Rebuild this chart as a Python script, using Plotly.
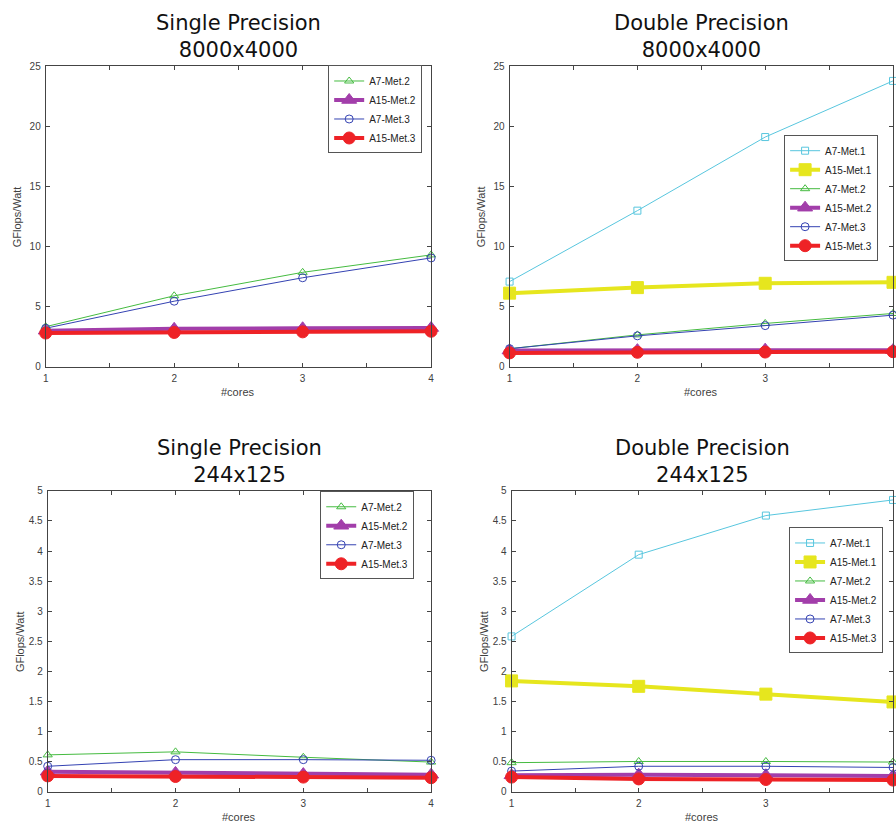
import plotly.graph_objects as go

cores = [1, 2, 3, 4]

# Single precision 8000x4000
sp_big = {
    "A7-Met.2": [3.33, 5.9, 7.85, 9.3],
    "A15-Met.2": [3.0, 3.15, 3.2, 3.22],
    "A7-Met.3": [3.2, 5.45, 7.4, 9.05],
    "A15-Met.3": [2.8, 2.85, 2.9, 2.95],
}
# Double precision 8000x4000
dp_big = {
    "A7-Met.1": [7.08, 12.98, 19.1, 23.77],
    "A15-Met.1": [6.12, 6.58, 6.94, 7.02],
    "A7-Met.2": [1.5, 2.65, 3.6, 4.43],
    "A15-Met.2": [1.35, 1.38, 1.42, 1.38],
    "A7-Met.3": [1.5, 2.57, 3.42, 4.29],
    "A15-Met.3": [1.15, 1.2, 1.22, 1.25],
}
# Single precision 244x125
sp_small = {
    "A7-Met.2": [0.61, 0.66, 0.57, 0.49],
    "A15-Met.2": [0.33, 0.31, 0.29, 0.28],
    "A7-Met.3": [0.42, 0.53, 0.53, 0.52],
    "A15-Met.3": [0.26, 0.25, 0.24, 0.23],
}
# Double precision 244x125
dp_small = {
    "A7-Met.1": [2.58, 3.94, 4.59, 4.85],
    "A15-Met.1": [1.84, 1.75, 1.62, 1.49],
    "A7-Met.2": [0.48, 0.5, 0.5, 0.49],
    "A15-Met.2": [0.27, 0.28, 0.27, 0.26],
    "A7-Met.3": [0.34, 0.42, 0.42, 0.4],
    "A15-Met.3": [0.24, 0.21, 0.2, 0.19],
}

titles = ["Single Precision<br>8000x4000", "Double Precision<br>8000x4000",
          "Single Precision<br>244x125", "Double Precision<br>244x125"]
x_tick_vals = [1, 1.5, 2, 2.5, 3, 3.5, 4]
x_tick_text = ["1", "", "2", "", "3", "", "4"]
y_ticks_big = [0, 5, 10, 15, 20, 25]
y_ticks_small = [0, 0.5, 1, 1.5, 2, 2.5, 3, 3.5, 4, 4.5, 5]

styles = {
    "A7-Met.1": dict(color="#58C6DE", width=1, symbol="square-open", size=7),
    "A15-Met.1": dict(color="#E6E61E", width=4, symbol="square", size=12),
    "A7-Met.2": dict(color="#45BB40", width=1, symbol="triangle-up-open", size=8),
    "A15-Met.2": dict(color="#A23EAA", width=4, symbol="triangle-up", size=13),
    "A7-Met.3": dict(color="#3442B2", width=1, symbol="circle-open", size=8),
    "A15-Met.3": dict(color="#EE2226", width=4, symbol="circle", size=12),
}

W, H = 896, 834
def fx(px):
    return px / W
def fy(py):
    return 1 - py / H

panels = [
    dict(data=sp_big, x=(43, 431), y=(61, 366), yr=25, yt=y_ticks_big,
         legend=(422, 105)),
    dict(data=dp_big, x=(510, 896), y=(61, 366), yr=25, yt=y_ticks_big,
         legend=(881, 195)),
    dict(data=sp_small, x=(45, 431), y=(492, 797), yr=5, yt=y_ticks_small,
         legend=(414, 537)),
    dict(data=dp_small, x=(512, 896), y=(492, 797), yr=5, yt=y_ticks_small,
         legend=(886, 593)),
]

fig = go.Figure()
axis_color = "#444444"
tick_font = dict(family="Liberation Sans, Arial", size=10, color="#404040")
annotations = []

for i, p in enumerate(panels):
    n = i + 1
    xa = "x" if n == 1 else f"x{n}"
    ya = "y" if n == 1 else f"y{n}"
    lg = "legend" if n == 1 else f"legend{n}"
    for name, vals in p["data"].items():
        s = styles[name]
        fig.add_trace(go.Scatter(
            x=cores, y=vals, name=name, mode="lines+markers",
            line=dict(color=s["color"], width=s["width"]),
            marker=dict(symbol=s["symbol"], size=s["size"], color=s["color"],
                        line=dict(color=s["color"], width=1)),
            xaxis=xa, yaxis=ya, legend=lg, cliponaxis=False,
        ))
    xd = [fx(p["x"][0]), min(1.0, fx(p["x"][1]))]
    yd = [fy(p["y"][1]), fy(p["y"][0])]
    fig.update_layout(**{
        ("xaxis" if n == 1 else f"xaxis{n}"): dict(
            domain=xd, range=[1, 4], tickvals=x_tick_vals, ticktext=x_tick_text,
            ticks="inside", ticklen=4, tickcolor=axis_color, showline=True,
            linecolor=axis_color, linewidth=1, mirror="ticks", showgrid=False,
            zeroline=False, tickfont=tick_font, anchor=ya, ticklabelstandoff=2,
        ),
        ("yaxis" if n == 1 else f"yaxis{n}"): dict(
            domain=yd, range=[0, p["yr"]], tickvals=p["yt"],
            ticks="inside", ticklen=4, tickcolor=axis_color, showline=True,
            linecolor=axis_color, linewidth=1, mirror="ticks", showgrid=False,
            zeroline=False, tickfont=tick_font, anchor=xa, ticklabelstandoff=2,
        ),
        lg: dict(
            x=fx(p["legend"][0]), y=fy(p["legend"][1]), xanchor="right",
            yanchor="middle", bgcolor="white", bordercolor="#555555",
            borderwidth=1, font=dict(family="Liberation Sans, Arial", size=10,
                                     color="#222222"),
            tracegroupgap=0, itemwidth=30,
        ),
    })
    right = 431 if n in (1, 3) else 896
    cx = (p["x"][0] + right) / 2
    annotations.append(dict(
        text=titles[i], x=fx(cx), y=fy(p["y"][0] - 30), xref="paper",
        yref="paper", xanchor="center", yanchor="middle", showarrow=False,
        font=dict(family="DejaVu Sans", size=21, color="#111111"),
    ))
    annotations.append(dict(
        text="#cores", x=fx(cx),
        y=fy(p["y"][1] + 26), xref="paper", yref="paper", xanchor="center",
        yanchor="middle", showarrow=False,
        font=dict(family="Liberation Sans, Arial", size=11, color="#404040"),
    ))
    annotations.append(dict(
        text="GFlops/Watt", x=fx(p["x"][0] - 28), y=fy((p["y"][0] + p["y"][1]) / 2),
        xref="paper", yref="paper", xanchor="center", yanchor="middle",
        textangle=-90, showarrow=False,
        font=dict(family="Liberation Sans, Arial", size=11, color="#404040"),
    ))

fig.update_layout(
    width=W, height=H, margin=dict(l=0, r=0, t=0, b=0),
    paper_bgcolor="white", plot_bgcolor="white",
    annotations=annotations, showlegend=True,
)
fig.write_html("out.html", config={"displayModeBar": False},
               post_script="document.body.style.margin='0px';")
